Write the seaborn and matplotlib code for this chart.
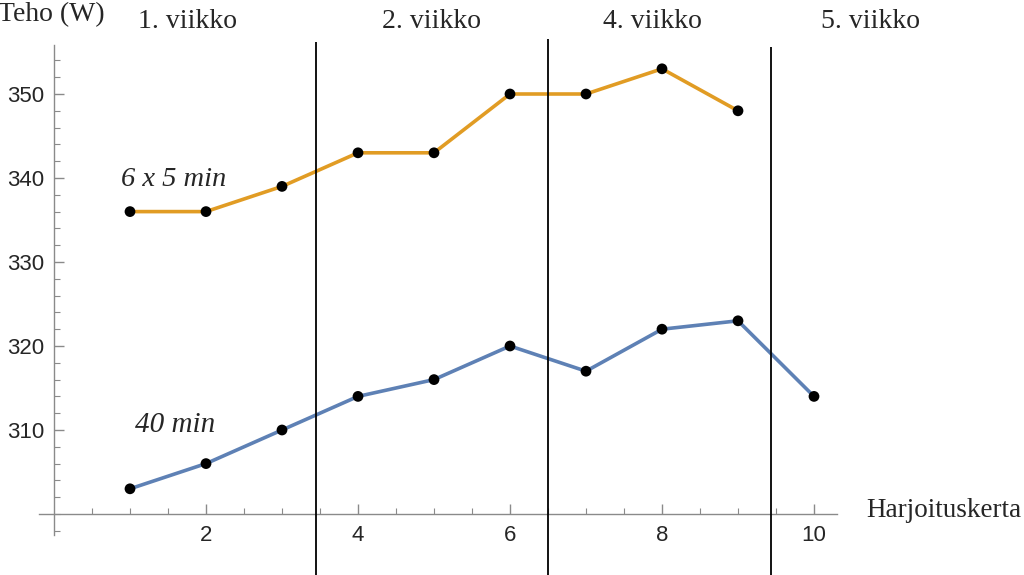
import numpy as np
import pandas as pd
import matplotlib
matplotlib.use("Agg")
import matplotlib.pyplot as plt
import seaborn as sns

# data
kerta_6x5 = [1, 2, 3, 4, 5, 6, 7, 8, 9]
teho_6x5 = [336, 336, 339, 343, 343, 350, 350, 353, 348]
kerta_40 = [1, 2, 3, 4, 5, 6, 7, 8, 9, 10]
teho_40 = [303, 306, 310, 314, 316, 320, 317, 322, 323, 314]

viikot = ["1. viikko", "2. viikko", "4. viikko", "5. viikko"]
viikko_x = [1.76, 4.97, 7.87, 10.74]
rajat = [3.45, 6.5, 9.43]
rajat_top = [356.2, 356.6, 355.6]

sns.set_style("white")
plt.rcParams['font.family'] = ['Liberation Sans', 'DejaVu Sans']

df_a = pd.DataFrame({"kerta": kerta_6x5, "teho": teho_6x5})
df_b = pd.DataFrame({"kerta": kerta_40, "teho": teho_40})

fig = plt.figure(figsize=(10.24, 5.75), dpi=100)
ax = fig.add_axes([0, 0, 1, 1])

orange = "#E19C24"
blue = "#5E81B5"

sns.lineplot(data=df_b, x="kerta", y="teho", color=blue, lw=2.6, ax=ax)
sns.lineplot(data=df_a, x="kerta", y="teho", color=orange, lw=2.6, ax=ax)
sns.scatterplot(data=df_b, x="kerta", y="teho", color="black", s=60,
                edgecolor="none", zorder=5, ax=ax)
sns.scatterplot(data=df_a, x="kerta", y="teho", color="black", s=60,
                edgecolor="none", zorder=5, ax=ax)

# axes in figure pixels: x=0 -> 54px, 76 px/unit ; y=300 -> 514px, 8.4 px/unit
x0, sx = 54, 76.0
y0, sy = 514, 8.4
ax.set_xlim(-x0 / sx, (1024 - x0) / sx)
ax.set_ylim(300 - (575 - y0) / sy, 300 + y0 / sy)

for x, top in zip(rajat, rajat_top):
    ax.vlines(x, 290, top, color="black", lw=1.3, zorder=3)

gray = "#8a8a8a"
for s in ["top", "right"]:
    ax.spines[s].set_visible(False)
ax.spines["left"].set_position(("data", 0))
ax.spines["bottom"].set_position(("data", 300))
ax.spines["left"].set_bounds(297.5, 355.8)
ax.spines["bottom"].set_bounds(-0.2, 10.3)
for s in ["left", "bottom"]:
    ax.spines[s].set_color(gray)
    ax.spines[s].set_linewidth(1.0)

ax.set_xticks([2, 4, 6, 8, 10])
ax.set_xticks(np.arange(0.5, 10.01, 0.5), minor=True)
ax.set_yticks([310, 320, 330, 340, 350])
ax.set_yticks(np.arange(298, 356, 2), minor=True)
ax.tick_params(which="both", direction="in", color=gray, labelsize=16,
               bottom=True, left=True)
ax.tick_params(which="major", length=7.5, width=1.0)
ax.tick_params(which="minor", length=4.5, width=0.8)
ax.tick_params(axis="x", pad=8)
ax.tick_params(axis="y", pad=7)
ax.set_xlabel("")
ax.set_ylabel("")

serif = ['Liberation Serif', 'DejaVu Serif']
for lab, x in zip(viikot, viikko_x):
    ax.text(x, 358.6, lab, ha="center", va="center", fontsize=20,
            family=serif, clip_on=False)
ax.text(-0.03, 359.4, "Teho (W)", ha="center", va="center", fontsize=20,
        family=serif, clip_on=False)
ax.text(10.69, 300.4, "Harjoituskerta", ha="left", va="center", fontsize=19.5,
        family=serif, clip_on=False)
ax.text(1.57, 339.8, "6 x 5 min", ha="center", va="center", fontsize=20.5,
        family=serif, style="italic")
ax.text(1.6, 310.6, "40 min", ha="center", va="center", fontsize=21,
        family=serif, style="italic")

fig.savefig("out.png", dpi=100)
plt.close(fig)
